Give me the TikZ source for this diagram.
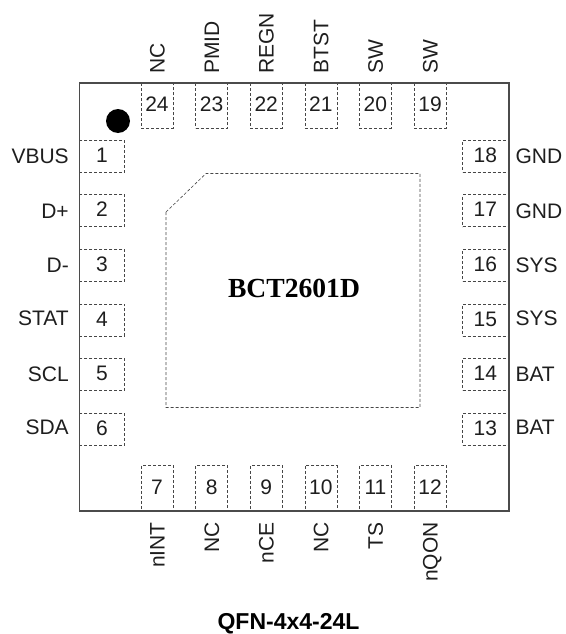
\documentclass[tikz,border=0pt]{standalone}
\usepackage{fontspec}
\setmainfont{Liberation Sans}
\newfontfamily\partfont{Liberation Serif}
\usetikzlibrary{arrows}
\definecolor{PinGray}{RGB}{70,70,70}
\definecolor{BodyGray}{RGB}{75,75,75}
\definecolor{InkBlack}{RGB}{30,30,30}
\tikzset{%
	sidepad/.style={rectangle, draw=PinGray, densely dashed, line width=0.6pt,
		minimum width=45.5pt, minimum height=32pt, inner sep=0pt, text depth=2pt,
		text centered, text=InkBlack, font=\fontsize{21}{21}\selectfont},
	endpad/.style={rectangle, draw=PinGray, densely dashed, line width=0.6pt,
		minimum width=32pt, minimum height=45.5pt, inner sep=0pt, text depth=2pt,
		text centered, text=InkBlack, font=\fontsize{21}{21}\selectfont},
	pinname/.style={inner sep=0pt, text=InkBlack, text height=15pt, text depth=0pt,
		font=\fontsize{21}{21}\selectfont},
	toppin/.style={pinname, rotate=90, anchor=west},
	botpin/.style={pinname, rotate=90, anchor=east},
	leftpin/.style={pinname, anchor=east},
	rightpin/.style={pinname, anchor=west},
}
\begin{document}
\begin{tikzpicture}[x=1pt,y=-1pt,node distance=54.6pt]

    \useasboundingbox (0,0) rectangle (565,634);

    % left side
    \node [sidepad] (Pad01) at (102,156) {1};
    \node [sidepad] (Pad02) [below of = Pad01] {2};
    \node [sidepad] (Pad03) [below of = Pad02] {3};
    \node [sidepad] (Pad04) [below of = Pad03] {4};
    \node [sidepad] (Pad05) [below of = Pad04] {5};
    \node [sidepad] (Pad06) [below of = Pad05] {6};

    % right side
    \node [sidepad] (Pad18) at (485.25,156) {18};
    \node [sidepad] (Pad17) [below of = Pad18] {17};
    \node [sidepad] (Pad16) [below of = Pad17] {16};
    \node [sidepad] (Pad15) [below of = Pad16] {15};
    \node [sidepad] (Pad14) [below of = Pad15] {14};
    \node [sidepad] (Pad13) [below of = Pad14] {13};

    % top side
    \node [endpad] (Pad24) at (157,105.5) {24};
    \node [endpad] (Pad23) [right of = Pad24] {23};
    \node [endpad] (Pad22) [right of = Pad23] {22};
    \node [endpad] (Pad21) [right of = Pad22] {21};
    \node [endpad] (Pad20) [right of = Pad21] {20};
    \node [endpad] (Pad19) [right of = Pad20] {19};

    % bottom side
    \node [endpad] (Pad07) at (157,488) {7};
    \node [endpad] (Pad08) [right of = Pad07] {8};
    \node [endpad] (Pad09) [right of = Pad08] {9};
    \node [endpad] (Pad10) [right of = Pad09] {10};
    \node [endpad] (Pad11) [right of = Pad10] {11};
    \node [endpad] (Pad12) [right of = Pad11] {12};

    \node [leftpin] (Vbus) at ([xshift=-10pt]Pad01.west) {VBUS};
    \node [leftpin] (Dplus) at ([xshift=-10pt]Pad02.west) {D+};
    \node [leftpin] (Dminus) at ([xshift=-10pt]Pad03.west) {D-};
    \node [leftpin] (Stat) at ([xshift=-10pt,yshift=2pt]Pad04.west) {STAT};
    \node [leftpin] (Scl) at ([xshift=-10pt]Pad05.west) {SCL};
    \node [leftpin] (Sda) at ([xshift=-10pt,yshift=2pt]Pad06.west) {SDA};

    \node [rightpin] (Gnd18) at ([xshift=7pt]Pad18.east) {GND};
    \node [rightpin] (Gnd17) at ([xshift=7pt]Pad17.east) {GND};
    \node [rightpin] (Sys16) at ([xshift=7pt]Pad16.east) {SYS};
    \node [rightpin] (Sys15) at ([xshift=7pt,yshift=2pt]Pad15.east) {SYS};
    \node [rightpin] (Bat14) at ([xshift=7pt]Pad14.east) {BAT};
    \node [rightpin] (Bat13) at ([xshift=7pt,yshift=2pt]Pad13.east) {BAT};

    \node [toppin] (Nc24) at ([yshift=8.5pt]Pad24.north) {NC};
    \node [toppin] (Pmid) at ([yshift=8.5pt]Pad23.north) {PMID};
    \node [toppin] (Regn) at ([yshift=8.5pt]Pad22.north) {REGN};
    \node [toppin] (Btst) at ([yshift=8.5pt]Pad21.north) {BTST};
    \node [toppin] (Sw20) at ([yshift=8.5pt]Pad20.north) {SW};
    \node [toppin] (Sw19) at ([yshift=8.5pt]Pad19.north) {SW};

    \node [botpin] (Nint) at ([yshift=-11pt]Pad07.south) {nINT};
    \node [botpin] (Nc08) at ([yshift=-11pt]Pad08.south) {NC};
    \node [botpin] (Nce) at ([yshift=-11pt]Pad09.south) {nCE};
    \node [botpin] (Nc10) at ([yshift=-11pt]Pad10.south) {NC};
    \node [botpin] (Ts) at ([yshift=-11pt]Pad11.south) {TS};
    \node [botpin] (Nqon) at ([yshift=-11pt]Pad12.south) {nQON};

    % package outline, pin one mark, thermal pad
    \draw [BodyGray, line width=1.2pt] (79.5,83) rectangle (509,511);
    \node [circle, fill=black, inner sep=0pt, minimum size=24pt] (Dot) at (118,121) {};
    \draw [PinGray, densely dashed, line width=0.6pt] (166,212) -- (206,173.5) -- (420,173.5)
        -- (420,407.5) -- (166,407.5) -- cycle;

    \node [text=black, inner sep=0pt, font=\partfont\bfseries\fontsize{27.6}{28}\selectfont] (Part) at (294,288) {BCT2601D};
    \node [text=black, inner sep=0pt, font=\bfseries\fontsize{23}{24}\selectfont] (Package) at (288.5,623.5) {QFN-4x4-24L};

\end{tikzpicture}
\end{document}
